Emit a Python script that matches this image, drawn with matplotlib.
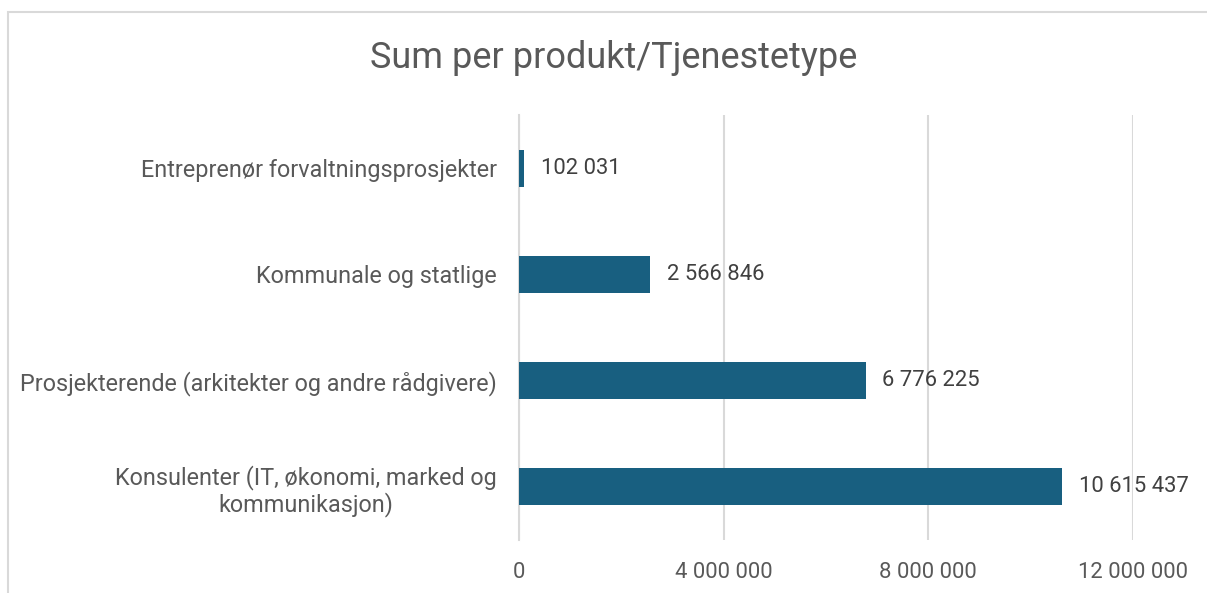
import matplotlib.pyplot as plt
from matplotlib.patches import Rectangle

# Data
categories = [
    "Entreprenør forvaltningsprosjekter",
    "Kommunale og statlige",
    "Prosjekterende (arkitekter og andre rådgivere)",
    "Konsulenter (IT, økonomi, marked og\nkommunikasjon)",
]
values = [102031, 2566846, 6776225, 10615437]
x_ticks = [0, 4000000, 8000000, 12000000]


def fmt(v):
    # thousands separator as space
    return f"{v:,.0f}".replace(",", " ")


plt.rcParams['font.family'] = ['Roboto', 'DejaVu Sans']

fig = plt.figure(figsize=(12.07, 5.93), dpi=100)
ax = fig.add_axes([0.430, 0.0894, 0.5087, 0.7167])

# outer chart border (only left and top visible in the crop)
fig.add_artist(Rectangle((8 / 1207, -0.1), 1.2, 0.1 + (1 - 12 / 593),
                         transform=fig.transFigure, fill=False,
                         edgecolor='#d9d9d9', linewidth=1.5))

ypos = range(len(categories))
bars = ax.barh(ypos, values, height=0.35, color='#185F80', zorder=3)
ax.bar_label(bars, labels=[fmt(v) for v in values], padding=12,
             fontsize=15.8, color='#404040')

ax.set_xlim(0, 12000000)
ax.set_ylim(3.5, -0.5)
ax.set_xticks(x_ticks)
ax.set_xticklabels([fmt(v) for v in x_ticks], fontsize=15.8, color='#595959')
ax.set_yticks(list(ypos))
ax.set_yticklabels(categories, fontsize=16.8, color='#595959',
                   multialignment='center', linespacing=1.1)
ax.tick_params(axis='x', length=0, pad=16)
ax.tick_params(axis='y', length=0, pad=16)

ax.grid(axis='x', color='#d9d9d9', linewidth=1.5, zorder=0)
for s in ['top', 'right', 'bottom']:
    ax.spines[s].set_visible(False)
ax.spines['left'].set_color('#d9d9d9')
ax.spines['left'].set_linewidth(1.5)

fig.text(614 / 1207, 1 - 58 / 593, "Sum per produkt/Tjenestetype",
         ha='center', va='center', fontsize=26, color='#595959')

fig.savefig("out.png", dpi=100)
